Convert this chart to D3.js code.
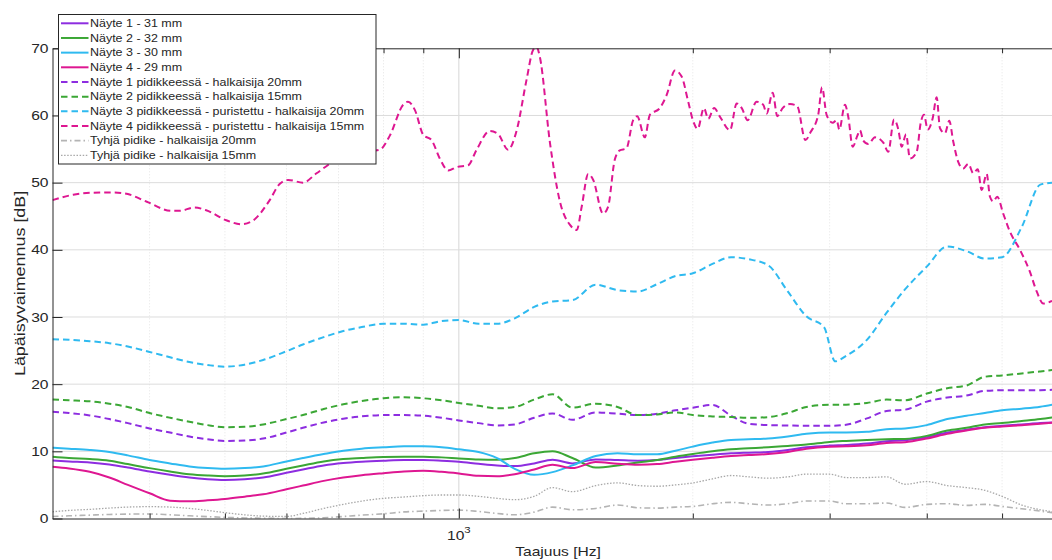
<!DOCTYPE html>
<html>
<head>
<meta charset="utf-8">
<script src="https://cdn.jsdelivr.net/npm/d3@7"></script>
<style>
  body { margin: 0; background: #fff; }
  svg { display: block; }
  text { font-family: "Liberation Sans", Arial, Helvetica, sans-serif; fill: #262626; }
</style>
</head>
<body>
<svg id="chart"></svg>
<script>
// frequencies (Hz) shared by the smooth series
var freq = [300,315,335,355,375,400,425,450,475,500,530,560,600,630,670,710,750,800,850,900,950,
  1000,1060,1120,1180,1250,1320,1400,1500,1600,1700,1800,1900,2000,2120,2240,2360,2500,2650,2800,
  3000,3150,3350,3550,3750,4000,4250,4500,4750,5000,5300,5600,5800];

// samples (dB)
var nayte1 = [8.65,8.5,8.35,8.05,7.6,7.0,6.5,6.1,5.85,5.75,5.85,6.1,6.8,7.3,7.9,8.25,8.45,8.6,8.7,8.7,8.6,
  8.45,8.15,7.9,7.8,8.2,8.75,8.2,8.8,8.7,8.6,8.7,9.0,9.25,9.5,9.7,9.8,9.9,10.2,10.6,
  10.85,10.95,11.15,11.5,11.65,12.1,12.8,13.2,13.6,13.8,14.0,14.2,14.3];
var nayte2 = [9.2,9.0,8.85,8.6,8.1,7.5,7.0,6.6,6.4,6.3,6.4,6.7,7.4,7.9,8.5,8.85,9.0,9.15,9.2,9.2,9.1,
  8.95,8.8,8.75,9.0,9.7,10.0,9.0,7.6,7.9,8.35,8.7,9.2,9.6,10.0,10.3,10.45,10.6,10.8,11.0,
  11.4,11.55,11.7,11.8,11.85,12.3,13.1,13.5,14.0,14.2,14.5,14.8,15.05];
var nayte3 = [10.55,10.4,10.2,9.9,9.4,8.7,8.2,7.75,7.5,7.4,7.5,7.75,8.5,9.0,9.6,10.1,10.4,10.6,10.75,10.75,10.6,
  10.3,9.9,9.0,7.4,6.5,6.9,7.9,9.3,9.7,9.55,9.55,10.1,10.7,11.3,11.7,11.8,11.9,12.2,12.6,
  12.8,12.8,12.9,13.3,13.4,13.9,14.8,15.3,15.7,16.1,16.35,16.65,16.95];
var nayte4 = [7.7,7.45,6.95,6.1,5.0,3.75,2.65,2.55,2.7,2.9,3.25,3.6,4.35,4.9,5.6,6.1,6.45,6.75,7.0,7.1,6.95,
  6.7,6.35,6.3,6.6,7.3,8.0,7.5,8.4,8.15,8.0,8.1,8.45,8.75,9.05,9.3,9.45,9.6,9.9,10.4,
  10.7,10.75,10.9,11.25,11.35,11.9,12.6,13.1,13.5,13.7,13.9,14.1,14.25];
var nayte1Pidike = [15.9,15.7,15.35,14.8,14.2,13.4,12.8,12.2,11.8,11.55,11.6,11.9,12.8,13.5,14.3,14.85,15.2,15.4,15.4,15.3,15.0,
  14.6,14.2,13.85,14.0,15.0,15.65,14.7,15.8,15.6,15.4,15.6,16.1,16.5,16.9,15.3,14.1,13.9,13.85,13.8,
  13.8,13.95,14.9,16.0,16.2,17.4,18.0,18.3,19.0,19.1,19.1,19.1,19.15];
var nayte2Pidike = [17.7,17.6,17.45,17.1,16.6,15.7,15.0,14.4,13.9,13.6,13.65,14.0,14.8,15.4,16.3,17.0,17.5,17.9,18.05,17.9,17.6,
  17.2,16.8,16.4,16.6,17.7,18.5,16.5,17.1,16.6,15.4,15.5,15.8,15.4,15.2,15.1,15.0,15.1,15.7,16.6,
  16.95,16.95,17.2,17.7,17.6,18.6,19.4,19.8,21.1,21.3,21.6,21.9,22.1];
var tyhja20 = [0.3,0.4,0.5,0.6,0.65,0.67,0.55,0.4,0.28,0.17,0.08,0.04,0.0,0.02,0.1,0.3,0.5,0.7,0.98,1.1,1.2,
  1.25,1.05,0.75,0.55,0.95,1.7,1.3,1.5,2.0,1.6,1.55,1.7,1.8,2.2,2.4,2.2,2.0,2.2,2.6,
  2.6,2.2,2.2,2.3,1.65,2.1,2.2,1.95,2.1,1.8,1.45,1.1,0.87];
var tyhja15 = [1.0,1.2,1.36,1.55,1.7,1.76,1.7,1.5,1.2,0.87,0.55,0.35,0.3,0.75,1.5,2.1,2.6,3.0,3.2,3.4,3.5,
  3.5,3.3,3.0,2.8,3.3,4.6,4.0,4.9,5.3,4.9,4.8,5.0,5.3,5.9,6.4,6.2,6.0,6.2,6.6,
  6.6,6.1,6.1,6.2,5.1,5.5,4.9,4.6,4.2,3.3,2.0,1.3,1.0];

// sample 3 in holder: same grid but with the sharp notch near 3 kHz
var nayte3PidikeFreq = [300,315,335,355,375,400,425,450,475,500,530,560,600,630,670,710,750,800,850,900,950,
  1000,1060,1120,1180,1250,1320,1400,1500,1600,1700,1800,1900,2000,2120,2240,2360,2500,2650,2800,
  2950,3050,3150,3350,3550,3750,4000,4250,4500,4750,5000,5300,5600,5800];
var nayte3Pidike = [26.7,26.6,26.4,26.1,25.6,24.8,24.0,23.3,22.85,22.6,22.9,23.6,24.9,25.9,27.0,27.9,28.5,29.0,29.0,28.85,29.4,
  29.55,29.0,29.0,29.8,31.5,32.3,32.5,34.8,34.0,33.8,34.9,36.1,36.5,37.9,38.9,38.6,37.7,33.8,30.1,
  28.5,23.4,24.2,26.6,30.6,34.1,37.5,40.5,39.8,38.7,38.9,43.4,49.7,50.0];

// the wiggly one has its own, denser frequency list
var nayte4PidikeFreq = [300,319,338,359,375,396,427,437,457,473,502,525,544,571,588,603,630,656,689,738,
  791,815,848,860,878,900,922,945,969,993,1028,1054,1096,1124,1157,1187,1222,1246,1259,1271,
  1310,1349,1390,1418,1439,1467,1489,1533,1556,1587,1611,1643,1676,1696,1735,1761,1814,1851,1897,1935,
  1973,2003,2029,2067,2094,2130,2168,2233,2278,2312,2353,2416,2464,2489,2534,2569,2610,2667,2725,2792,
  2838,2900,2933,2973,3027,3063,3087,3139,3170,3212,3256,3282,3314,3364,3431,3517,3569,3630,3677,3714,
  3762,3806,3883,3929,3968,4011,4071,4119,4160,4222,4276,4327,4391,4457,4524,4591,4652,4707,4777,4824,
  4871,4929,5017,5118,5272,5431,5540,5649,5798];
var nayte4Pidike = [47.4,48.2,48.5,48.55,48.3,47.2,45.8,45.8,46.3,45.9,44.4,43.8,44.4,47.4,49.8,50.4,50.0,51.4,53.1,54.4,
  54.9,57.0,61.6,62.05,60.8,57.1,56.35,53.6,51.8,52.3,52.6,54.9,57.7,57.2,54.9,57.8,65.3,69.75,70.2,68.75,
  55.9,47.2,43.7,42.95,46.4,51.3,50.4,45.4,46.4,53.4,54.8,55.1,59.3,59.9,56.75,60.1,61.1,63.05,66.7,65.8,
  62.05,59.1,58.0,61.1,59.5,61.1,59.8,57.8,61.8,61.1,59.3,62.05,61.6,60.3,63.4,59.9,61.1,61.7,61.4,56.35,
  57.6,60.1,64.2,60.1,58.9,59.3,57.9,61.6,59.8,55.35,56.95,57.8,56.25,55.75,56.75,55.95,54.6,59.4,57.9,55.35,
  57.2,53.6,54.6,58.9,60.1,57.9,59.6,62.7,58.1,57.35,59.2,56.1,53.1,52.1,52.8,51.4,52.0,48.9,51.3,47.9,
  47.2,47.9,45.4,42.7,40.0,36.7,33.8,32.0,32.4];

var yTicks = [0, 10, 20, 30, 40, 50, 60, 70];
var xMajorTicks = [1000];
var xMinorTicks = [400, 500, 600, 700, 800, 900, 2000, 3000, 4000, 5000];

var DASH = "6.5,4", DASHDOT = "6,3,1.5,3", DOT = "1.5,1.6";

var series = [
  { name: "Näyte 1 - 31 mm", f: freq, v: nayte1, color: "#8d2de0", dash: null, w: 2 },
  { name: "Näyte 2 - 32 mm", f: freq, v: nayte2, color: "#3ba735", dash: null, w: 2 },
  { name: "Näyte 3 - 30 mm", f: freq, v: nayte3, color: "#2fbaf0", dash: null, w: 2 },
  { name: "Näyte 4 - 29 mm", f: freq, v: nayte4, color: "#de1791", dash: null, w: 2 },
  { name: "Näyte 1 pidikkeessä - halkaisija 20mm", f: freq, v: nayte1Pidike, color: "#8d2de0", dash: DASH, w: 2 },
  { name: "Näyte 2 pidikkeessä - halkaisija 15mm", f: freq, v: nayte2Pidike, color: "#3ba735", dash: DASH, w: 2 },
  { name: "Näyte 3 pidikkeessä - puristettu - halkaisija 20mm", f: nayte3PidikeFreq, v: nayte3Pidike, color: "#2fbaf0", dash: DASH, w: 2 },
  { name: "Näyte 4 pidikkeessä - puristettu - halkaisija 15mm", f: nayte4PidikeFreq, v: nayte4Pidike, color: "#de1791", dash: DASH, w: 2 },
  { name: "Tyhjä pidike - halkaisija 20mm", f: freq, v: tyhja20, color: "#b4b4b4", dash: DASHDOT, w: 1.6 },
  { name: "Tyhjä pidike - halkaisija 15mm", f: freq, v: tyhja15, color: "#a8a8a8", dash: DOT, w: 1.3 }
];

function renderChart() {
  var W = 1052, H = 560;
  var plot = { left: 52.5, right: 1063.6, top: 48.3, bottom: 518.5 };
  var stretch = "scale(1.2,1)";   // the picture is a bit wider than tall

  var x = d3.scaleLog().domain([300, 6000]).range([plot.left, plot.right]);
  var y = d3.scaleLinear().domain([0, 70]).range([plot.bottom, plot.top]);

  var svg = d3.select("#chart").attr("width", W).attr("height", H);

  svg.append("clipPath").attr("id", "clip").append("rect")
    .attr("x", plot.left).attr("y", plot.top)
    .attr("width", plot.right - plot.left).attr("height", plot.bottom - plot.top);

  // grid
  var grid = svg.append("g");
  grid.selectAll(".mgrid").data(xMinorTicks).enter().append("line")
    .attr("x1", function (d) { return x(d); }).attr("x2", function (d) { return x(d); })
    .attr("y1", plot.top).attr("y2", plot.bottom)
    .attr("stroke", "#e4e4e4").attr("stroke-dasharray", "1,2");
  grid.selectAll(".vgrid").data(xMajorTicks).enter().append("line")
    .attr("x1", function (d) { return x(d); }).attr("x2", function (d) { return x(d); })
    .attr("y1", plot.top).attr("y2", plot.bottom)
    .attr("stroke", "#d6d6d6");
  grid.selectAll(".hgrid").data(yTicks.filter(function (d) { return d > 0 && d < 70; })).enter().append("line")
    .attr("x1", plot.left).attr("x2", plot.right)
    .attr("y1", function (d) { return y(d); }).attr("y2", function (d) { return y(d); })
    .attr("stroke", "#dcdcdc");

  // lines
  var line = d3.line()
    .x(function (d) { return x(d[0]); })
    .y(function (d) { return y(d[1]); })
    .curve(d3.curveMonotoneX);

  svg.append("g").attr("clip-path", "url(#clip)")
    .selectAll("path").data(series).enter().append("path")
    .attr("d", function (s) { return line(s.f.map(function (f, i) { return [f, s.v[i]]; })); })
    .attr("fill", "none")
    .attr("stroke", function (s) { return s.color; })
    .attr("stroke-width", function (s) { return s.w; })
    .attr("stroke-dasharray", function (s) { return s.dash; });

  // axes
  var axisColor = "#262626";
  var yAxis = svg.append("g")
    .attr("transform", "translate(" + plot.left + ",0)")
    .call(d3.axisLeft(y).tickValues(yTicks).tickSizeInner(-10).tickSizeOuter(0).tickPadding(4));
  yAxis.selectAll("text")
    .attr("x", null)
    .attr("transform", "translate(-4,0) " + stretch)
    .style("font-size", "13px").style("fill", axisColor);

  var bottom = svg.append("g").attr("transform", "translate(0," + plot.bottom + ")");
  bottom.call(d3.axisBottom(x).tickValues(xMajorTicks).tickSizeInner(-10).tickSizeOuter(0).tickFormat(""));
  bottom.append("g").call(d3.axisBottom(x).tickValues(xMinorTicks).tickSizeInner(-5).tickSizeOuter(0).tickFormat(""))
    .select(".domain").remove();

  var top = svg.append("g").attr("transform", "translate(0," + plot.top + ")");
  top.call(d3.axisTop(x).tickValues(xMajorTicks).tickSizeInner(-10).tickSizeOuter(0).tickFormat(""));
  top.append("g").call(d3.axisTop(x).tickValues(xMinorTicks).tickSizeInner(-5).tickSizeOuter(0).tickFormat(""))
    .select(".domain").remove();

  svg.selectAll(".domain, .tick line").attr("stroke", axisColor);

  // 10^3 tick label
  var lbl = svg.append("g")
    .attr("transform", "translate(" + x(1000) + ",540) " + stretch)
    .append("text").attr("text-anchor", "middle").style("font-size", "13px");
  lbl.append("tspan").text("10");
  lbl.append("tspan").attr("dy", -7).style("font-size", "9.5px").text("3");

  // axis titles
  svg.append("g")
    .attr("transform", "translate(" + ((plot.left + plot.right) / 2) + ",556) " + stretch)
    .append("text").attr("text-anchor", "middle").style("font-size", "13px")
    .text("Taajuus [Hz]");
  svg.append("g")
    .attr("transform", "translate(24.5," + ((plot.top + plot.bottom) / 2) + ") rotate(-90) scale(1.38,1.15)")
    .append("text").attr("text-anchor", "middle").style("font-size", "13px")
    .text("Läpäisyvaimennus [dB]");

  // legend
  var legend = svg.append("g");
  legend.append("rect")
    .attr("x", 58.5).attr("y", 14.5).attr("width", 317.5).attr("height", 149.5)
    .attr("fill", "#fff").attr("stroke", axisColor).attr("stroke-width", 1);
  var item = legend.selectAll(".item").data(series).enter().append("g")
    .attr("transform", function (d, i) { return "translate(0," + (23.3 + i * 14.67) + ")"; });
  item.append("line")
    .attr("x1", 61).attr("x2", 88.5)
    .attr("stroke", function (s) { return s.color; })
    .attr("stroke-width", function (s) { return s.w; })
    .attr("stroke-dasharray", function (s) { return s.dash; });
  item.append("g").attr("transform", "translate(90,0) " + stretch)
    .append("text").attr("dy", "0.35em").style("font-size", "10.4px")
    .text(function (s) { return s.name; });
}

renderChart();
</script>
</body>
</html>
